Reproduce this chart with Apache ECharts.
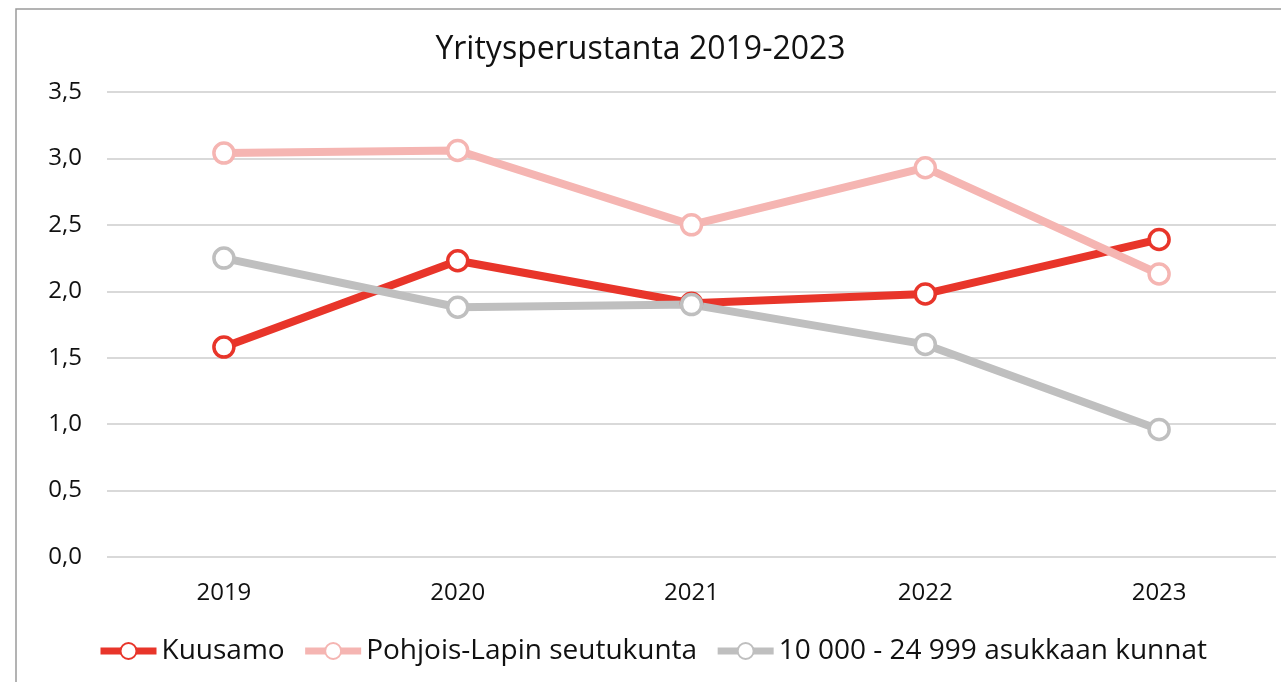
<!DOCTYPE html>
<html>
<head>
<meta charset="utf-8">
<script src="https://cdn.jsdelivr.net/npm/echarts@6/dist/echarts.min.js"></script>
<style>
  html, body { margin: 0; padding: 0; background: #ffffff; }
  #view { width: 1281px; height: 682px; }
</style>
</head>
<body>
<div id="view"></div>
<script>
// vuodet ja sarjat
let years = ["2019", "2020", "2021", "2022", "2023"];
let kuusamo = [1.58, 2.23, 1.91, 1.98, 2.39];
let pohjoisLappi = [3.04, 3.06, 2.50, 2.93, 2.13];
let kunnat = [2.25, 1.88, 1.90, 1.60, 0.96];

let font = "'Open Sans', Lato, sans-serif";

let myChart = echarts.init(document.getElementById("view"));

function makeSeries(name, data, color) {
  return {
    name: name,
    type: "line",
    data: data,
    symbol: "circle",
    symbolSize: 20,
    lineStyle: { width: 8, color: color },
    itemStyle: { color: "#ffffff", borderColor: color, borderWidth: 3.5 },
    emphasis: { disabled: true },
  };
}

let option = {
  backgroundColor: "#ffffff",
  animation: false,
  graphic: [
    {
      type: "rect",
      shape: { x: 16, y: 9, width: 1300, height: 700 },
      style: { fill: "none", stroke: "#9a9a9a", lineWidth: 1.5 },
      silent: true,
    },
  ],
  title: {
    text: "Yritysperustanta 2019-2023",
    left: "center",
    top: 29,
    textStyle: { fontFamily: font, fontSize: 32, fontWeight: "normal", color: "#111" },
  },
  legend: {
    top: 632,
    left: 92,
    itemWidth: 56,
    itemHeight: 20,
    itemGap: 17,
    lineStyle: { width: 7 },
    textStyle: { fontFamily: font, fontSize: 28, color: "#111" },
    data: ["Kuusamo", "Pohjois-Lapin seutukunta", "10 000 - 24 999 asukkaan kunnat"],
  },
  grid: { left: 107, right: 5, top: 92, bottom: 125 },
  xAxis: {
    type: "category",
    data: years,
    boundaryGap: true,
    axisLine: { show: false },
    axisTick: { show: false },
    axisLabel: { margin: 24, fontFamily: font, fontSize: 24, color: "#111" },
  },
  yAxis: {
    type: "value",
    min: 0,
    max: 3.5,
    interval: 0.5,
    axisLine: { show: false },
    axisTick: { show: false },
    splitLine: { lineStyle: { color: "#d9d9d9", width: 2 } },
    axisLabel: {
      margin: 25,
      fontFamily: font,
      fontSize: 24,
      color: "#111",
      formatter: (v) => v.toFixed(1).replace(".", ","),
    },
  },
  series: [
    makeSeries("Kuusamo", kuusamo, "#e8352a"),
    makeSeries("Pohjois-Lapin seutukunta", pohjoisLappi, "#f5b5b2"),
    makeSeries("10 000 - 24 999 asukkaan kunnat", kunnat, "#bfbfbf"),
  ],
};
myChart.setOption(option);
</script>
</body>
</html>
